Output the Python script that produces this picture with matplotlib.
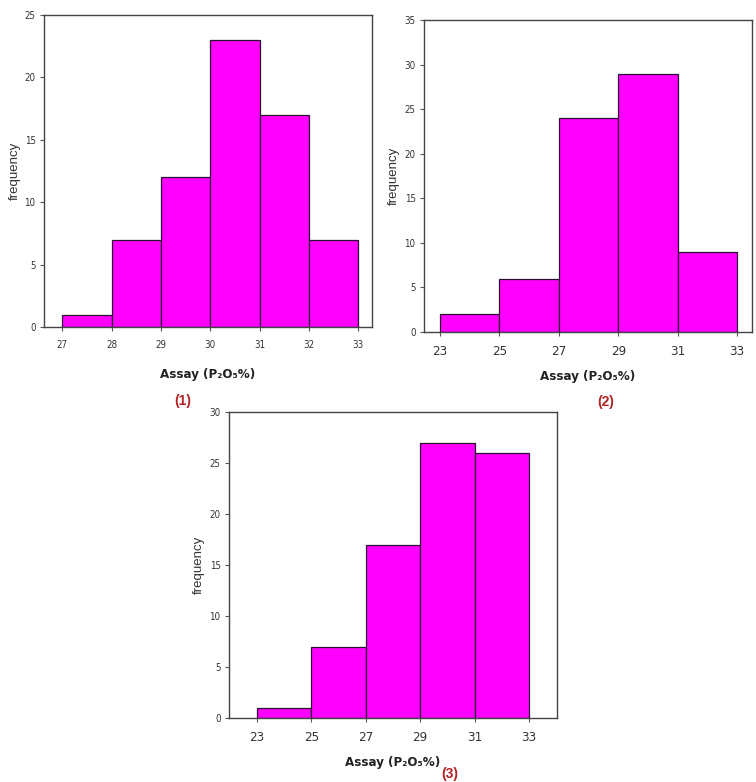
import numpy as np
import matplotlib
matplotlib.use("Agg")
import matplotlib.pyplot as plt
from matplotlib import font_manager

# pick a condensed sans font if one is installed
cond = None
for f in font_manager.fontManager.ttflist:
    n = f.name
    if ('Narrow' in n or 'Condensed' in n or 'condensed' in str(f.stretch)) and 'Mono' not in n and 'Serif' not in n:
        cond = f
        break
if cond is not None:
    cond_family = cond.name
    cond_stretch = cond.stretch
else:
    cond_family = 'Liberation Sans'
    cond_stretch = 'normal'

plt.rcParams['font.family'] = ['Liberation Sans', 'DejaVu Sans']

# ---- data ----
edges1 = [27, 28, 29, 30, 31, 32, 33]
counts1 = [1, 7, 12, 23, 17, 7]
edges2 = [23, 25, 27, 29, 31, 33]
counts2 = [2, 6, 24, 29, 9]
edges3 = [23, 25, 27, 29, 31, 33]
counts3 = [1, 7, 17, 27, 26]
xticks1 = [27, 28, 29, 30, 31, 32, 33]
xticks23 = [23, 25, 27, 29, 31, 33]
xlabel = 'Assay (P\u2082O\u2085%)'
ylabel = 'frequency'
panel_labels = ['(1)', '(2)', '(3)']

fig = plt.figure(figsize=(7.56, 7.82), dpi=100)

specs = [
    # rect, edges, counts, xticks, xlim, ylim, xtick size, xlabel pad
    ([0.0582, 0.5818, 0.434, 0.399], edges1, counts1, xticks1, (26.63, 33.28), (0, 25), 7, 13),
    ([0.5608, 0.5754, 0.4339, 0.399], edges2, counts2, xticks23, (22.46, 33.5), (0, 35), 9.5, 9),
    ([0.3029, 0.0816, 0.4339, 0.3915], edges3, counts3, xticks23, (21.97, 34.03), (0, 30), 9.5, 9),
]

for rect, edges, counts, xt, xl, yl, xts, xpad in specs:
    ax = fig.add_axes(rect)
    e = np.array(edges, dtype=float)
    ax.bar(e[:-1], counts, width=np.diff(e), align='edge', color='#FF00FF',
           edgecolor='#2a1030', linewidth=0.9, zorder=2)
    ax.set_xlim(*xl)
    ax.set_ylim(*yl)
    ax.set_xticks(xt)
    ax.set_yticks(np.arange(yl[0], yl[1] + 1, 5))
    ax.tick_params(axis='x', labelsize=xts, labelcolor='#333333', length=3, pad=6, color='#555555')
    ax.tick_params(axis='y', labelsize=7, labelcolor='#333333', length=3, pad=3, color='#555555')
    for lab in ax.get_xticklabels() + ax.get_yticklabels():
        lab.set_family([cond_family, 'Liberation Sans'])
        lab.set_stretch(cond_stretch)
    for s in ax.spines.values():
        s.set_color('#444444')
        s.set_linewidth(1.0)
    ax.set_ylabel(ylabel, fontsize=9.5, color='#333333', labelpad=3)
    xl_txt = ax.set_xlabel(xlabel, fontsize=9.5, fontweight='bold', color='#222222', labelpad=xpad)
    xl_txt.set_family([cond_family, 'DejaVu Sans', 'Liberation Sans'])
    xl_txt.set_stretch(cond_stretch)

fig.text(183 / 756, 1 - 401 / 782, panel_labels[0], color='#b22222', fontsize=10,
         fontweight='bold', ha='center', va='center')
fig.text(606 / 756, 1 - 402 / 782, panel_labels[1], color='#b22222', fontsize=10,
         fontweight='bold', ha='center', va='center')
fig.text(450 / 756, 1 - 774 / 782, panel_labels[2], color='#b22222', fontsize=10,
         fontweight='bold', ha='center', va='center')

fig.savefig('out.png', dpi=100)
